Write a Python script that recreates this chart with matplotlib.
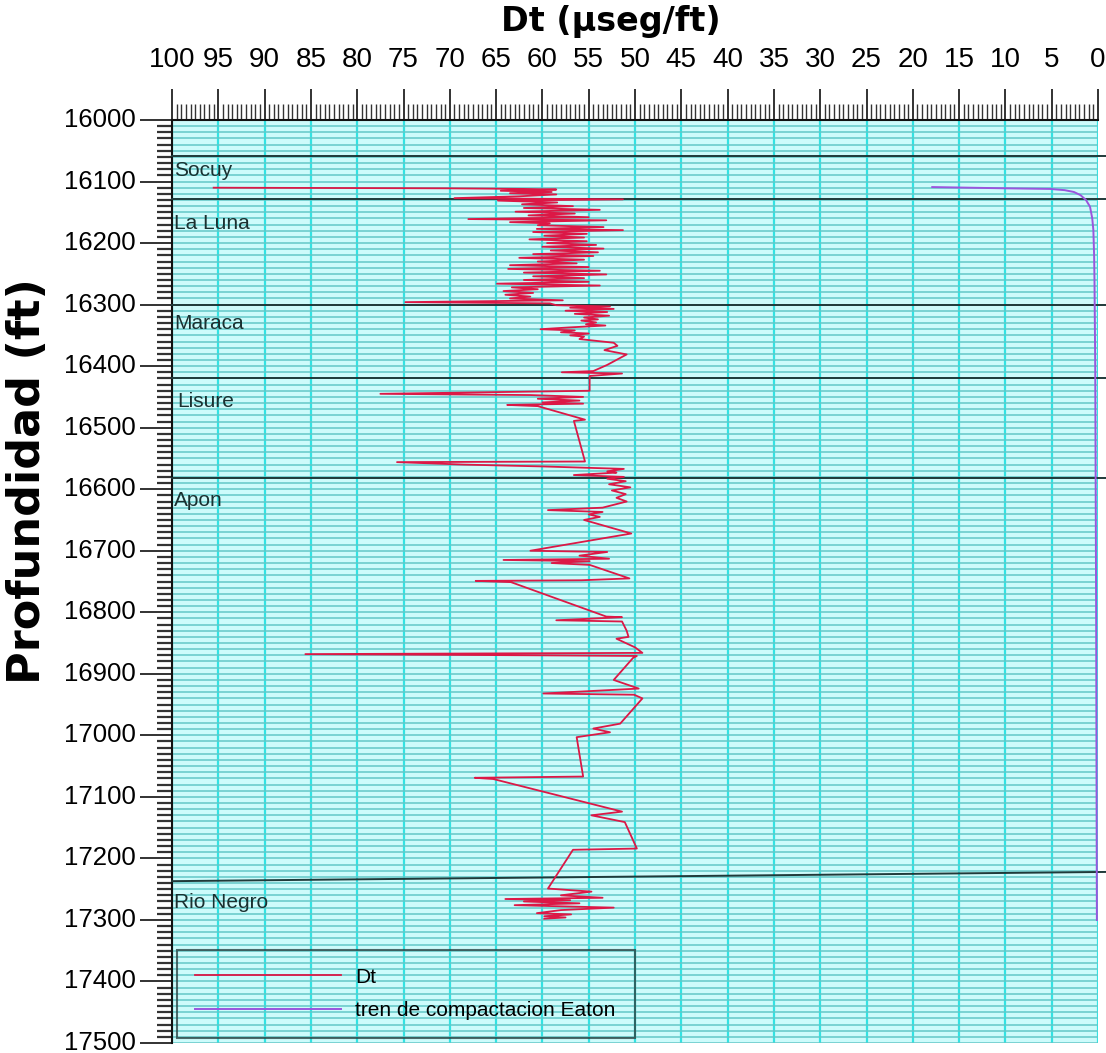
import matplotlib
matplotlib.use("Agg")
import matplotlib.pyplot as plt
import matplotlib.transforms as mtransforms
from matplotlib.ticker import MultipleLocator

# ---------------- data ----------------
dt_depth = [16110, 16111, 16112, 16113, 16115, 16117, 16119, 16121, 16124, 16127,
            16129, 16131, 16134, 16137, 16140, 16143, 16146, 16149, 16152, 16155,
            16158, 16161, 16163, 16166, 16168, 16171, 16174, 16177, 16179, 16182,
            16185, 16188, 16191, 16194, 16197, 16200, 16203, 16206, 16209, 16212,
            16215, 16218, 16221, 16224, 16227, 16230, 16233, 16236, 16239, 16242,
            16245, 16248, 16251, 16254, 16257, 16260, 16263, 16266, 16269, 16272,
            16275, 16278, 16281, 16284, 16287, 16290, 16293, 16296, 16298, 16301,
            16303, 16305, 16307, 16310, 16312, 16315, 16318, 16321, 16324, 16326,
            16329, 16332, 16334, 16337, 16340, 16342, 16345, 16347, 16350, 16352,
            16356, 16362, 16367, 16374, 16381, 16390, 16398, 16408, 16410, 16412,
            16416, 16440, 16445, 16447, 16450, 16453, 16456, 16459, 16461, 16463,
            16465, 16487, 16489, 16555, 16556, 16558, 16560, 16563, 16567, 16571,
            16573, 16577, 16580, 16583, 16587, 16592, 16597, 16602, 16608, 16614,
            16620, 16630, 16634, 16637, 16641, 16645, 16650, 16672, 16700, 16702,
            16708, 16713, 16715, 16717, 16720, 16723, 16745, 16748, 16749, 16751,
            16807, 16808, 16813, 16815, 16830, 16840, 16843, 16857, 16866, 16868,
            16870, 16871, 16874, 16910, 16924, 16932, 16934, 16940, 16981, 16989,
            16995, 17003, 17067, 17069, 17071, 17124, 17130, 17141, 17184, 17186,
            17249, 17254, 17260, 17264, 17266, 17268, 17270, 17273, 17276, 17278,
            17280, 17284, 17289, 17291, 17294, 17296, 17298]
dt_values = [95.5, 70.5, 62.0, 58.5, 64.5, 59.0, 63.5, 58.5, 62.5, 69.5,
             51.3, 64.8, 58.4, 62.2, 56.7, 62.0, 53.8, 62.9, 56.5, 61.5,
             55.0, 68.0, 53.1, 63.5, 59.2, 60.5, 53.4, 60.6, 51.3, 61.0,
             55.2, 59.8, 55.5, 61.4, 55.2, 59.5, 54.2, 60.0, 53.4, 59.1,
             54.0, 61.0, 54.5, 62.5, 55.5, 60.5, 56.3, 63.5, 55.0, 63.7,
             53.8, 62.0, 53.1, 61.0, 55.5, 62.0, 55.0, 64.9, 53.8, 63.3,
             60.5, 64.2, 61.0, 64.0, 61.3, 63.5, 57.8, 74.8, 59.2, 58.5,
             52.7, 57.0, 52.3, 57.5, 53.0, 56.5, 52.8, 55.5, 54.0, 55.8,
             54.2, 55.3, 53.2, 57.0, 60.2, 56.5, 58.0, 55.0, 57.0, 55.5,
             56.0, 52.3, 51.9, 53.3, 50.9, 52.0, 53.0, 54.5, 57.9, 51.4,
             54.9, 54.9, 77.5, 61.3, 55.6, 60.5, 56.0, 60.0, 55.6, 63.8,
             60.5, 55.4, 56.6, 55.4, 75.7, 72.0, 68.5, 60.0, 51.2, 53.0,
             52.0, 56.6, 51.2, 53.0, 51.0, 52.8, 50.5, 52.5, 51.0, 52.0,
             50.9, 53.5, 59.4, 53.5, 55.0, 53.8, 55.5, 50.4, 61.3, 53.0,
             56.0, 52.8, 64.2, 54.9, 59.0, 54.9, 50.6, 55.8, 67.2, 63.4,
             53.1, 51.4, 58.5, 51.4, 50.9, 50.7, 52.0, 50.0, 49.2, 85.6,
             60.0, 49.8, 50.2, 52.3, 49.6, 59.9, 50.1, 49.2, 51.6, 54.5,
             52.7, 56.3, 55.6, 67.3, 65.3, 51.4, 54.7, 51.1, 49.8, 56.7,
             59.4, 54.7, 58.0, 53.5, 64.0, 57.0, 62.0, 56.0, 63.0, 57.5,
             52.3, 58.0, 60.6, 56.9, 59.8, 57.5, 59.8]

eaton_depth = [16109, 16110, 16111, 16112, 16114, 16117, 16122, 16130, 16141,
               16160, 16179, 16220, 16260, 16400, 16600, 16800, 17000, 17300]
eaton_values = [17.9, 14.0, 10.0, 5.2, 3.6, 2.6, 1.9, 1.3, 0.86,
                0.62, 0.5, 0.42, 0.38, 0.3, 0.25, 0.2, 0.17, 0.12]

formation_names = ["Socuy", "La Luna", "Maraca", "Lisure", "Apon", "Rio Negro"]
formation_top_left = [16058, 16128, 16300, 16420, 16582, 17237]
formation_top_right = [16058, 16128, 16300, 16420, 16582, 17222]
formation_label_depth = [16091, 16177, 16340, 16466, 16628, 17280]

x_ticks = list(range(100, -1, -5))
y_ticks = list(range(16000, 17501, 100))

# ---------------- figure ----------------
fig = plt.figure(figsize=(11.06, 10.53), dpi=100)
ax = fig.add_axes([172 / 1106, 1 - 1043 / 1053, 926 / 1106, 923 / 1053])
ax.set_facecolor("#cdfbfb")

ax.set_xlim(100, 0)
ax.set_ylim(17500, 16000)

# grid
ax.xaxis.set_major_locator(MultipleLocator(5))
ax.xaxis.set_minor_locator(MultipleLocator(0.5))
ax.yaxis.set_major_locator(MultipleLocator(100))
ax.yaxis.set_minor_locator(MultipleLocator(10))
ax.grid(True, axis="x", which="major", color="#33e3e3", lw=1.6, zorder=0)
ax.grid(True, axis="y", which="both", color="#62c8c8", lw=1.1, zorder=0)
ax.set_axisbelow(True)

# formation tops
line_col = "#1f3a3a"
for name, dl, dr, dlab in zip(formation_names, formation_top_left,
                              formation_top_right, formation_label_depth):
    ax.plot([100, -0.9], [dl, dr], color=line_col, lw=1.4, clip_on=False, zorder=3)
    xoff = 99.4 if name == "Lisure" else 99.8
    ax.text(xoff, dlab, name, fontsize=15, color="#1a3030",
            family="Liberation Sans", ha="left", va="baseline", zorder=5)

# curves
ax.plot(dt_values, dt_depth, color="#dc1846", lw=1.3, label="Dt", zorder=4)
ax.plot(eaton_values, eaton_depth, color="#9a55dd", lw=1.4,
        label="tren de compactacion Eaton", zorder=4)

# axes styling
ax.xaxis.tick_top()
ax.xaxis.set_label_position("top")
ax.set_xticks(x_ticks)
ax.set_xticklabels([str(v) for v in x_ticks])
ax.set_yticks(y_ticks)
ax.set_yticklabels([str(v) for v in y_ticks])
ax.tick_params(axis="x", which="major", length=22.5, width=1.3, color="#222222",
               pad=11, labelsize=20)
ax.tick_params(axis="x", which="minor", length=11.5, width=1.0, color="#333333")
ax.tick_params(axis="y", which="major", length=23, width=1.3, color="#222222",
               pad=3, labelsize=18.5)
ax.tick_params(axis="y", which="minor", length=11, width=1.6, color="#333333")
for lab in ax.get_xticklabels():
    lab.set_family(["Liberation Sans Narrow", "Liberation Sans"])
shift_up = mtransforms.ScaledTranslation(0, 2.5 / 100, fig.dpi_scale_trans)
for lab in ax.get_yticklabels():
    lab.set_family("Liberation Sans")
    lab.set_transform(lab.get_transform() + shift_up)

for s in ["right", "bottom"]:
    ax.spines[s].set_visible(False)
for s in ["top", "left"]:
    ax.spines[s].set_linewidth(1.5)
    ax.spines[s].set_color("#111111")

fig.text(611 / 1106, 1 - 21 / 1053, "Dt (µseg/ft)", fontsize=24, fontweight="bold",
         family="DejaVu Sans", ha="center", va="center")
fig.text(28 / 1106, 1 - 481 / 1053, "Profundidad (ft)", fontsize=32, fontweight="bold",
         family="DejaVu Sans", ha="center", va="center", rotation=90)

leg = ax.legend(loc="lower left", bbox_to_anchor=(0.0054, 0.0054, 0.4946, 0.093),
                mode="expand", borderaxespad=0, handlelength=7.0, frameon=True,
                fancybox=False, borderpad=0.85, labelspacing=0.7, handletextpad=0.7,
                prop={"family": "Liberation Sans", "size": 15})
leg.get_frame().set_facecolor("none")
leg.get_frame().set_edgecolor("#2a4444")
leg.get_frame().set_linewidth(1.5)

fig.savefig("out.png", dpi=100)
